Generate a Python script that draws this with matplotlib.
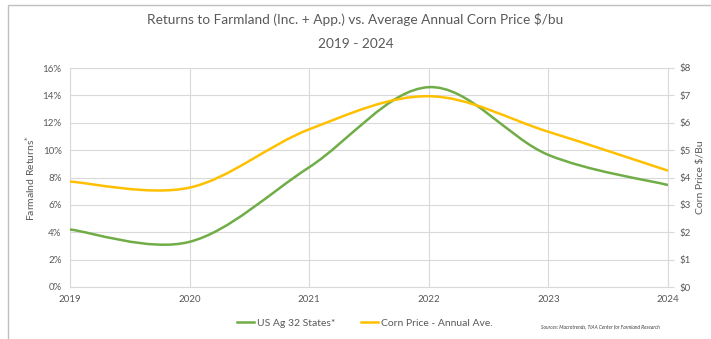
import numpy as np
import matplotlib.pyplot as plt
from matplotlib.path import Path
from matplotlib.patches import PathPatch, Rectangle
from matplotlib.lines import Line2D
from matplotlib.ticker import FuncFormatter

plt.rcParams['font.family'] = ['Lato', 'DejaVu Sans']

# annual values
years = [2019, 2020, 2021, 2022, 2023, 2024]
farm_returns = [4.2, 3.3, 8.75, 14.6, 9.65, 7.45]   # % per year, US Ag 32 states
corn_price = [3.85, 3.63, 5.76, 6.97, 5.67, 4.25]  # $/bu annual average

green = '#70AD47'
gold = '#FFC000'
txt = '#595959'
grid_c = '#D9D9D9'


def smooth_path(xs, ys):
    # Excel-style smoothed line: cubic Bezier segments through each point
    xs = np.asarray(xs, float)
    ys = np.asarray(ys, float)
    pts = np.column_stack([xs, ys])
    n = len(pts)
    verts = [pts[0]]
    codes = [Path.MOVETO]
    for i in range(n - 1):
        p0 = pts[max(i - 1, 0)]
        p1 = pts[i]
        p2 = pts[i + 1]
        p3 = pts[min(i + 2, n - 1)]
        c1 = p1 + (p2 - p0) / 6.0
        c2 = p2 - (p3 - p1) / 6.0
        verts += [c1, c2, p2]
        codes += [Path.CURVE4] * 3
    return Path(verts, codes)


fig = plt.figure(figsize=(7.11, 3.39), dpi=100)
fig.patches.append(Rectangle((8 / 711, -0.05), 1.1, 1 - 5 / 339 + 0.05,
                             transform=fig.transFigure, fill=False,
                             edgecolor='#BFBFBF', linewidth=1.0))

ax = fig.add_axes([70 / 711, 52 / 339, 598 / 711, 219 / 339])
ax2 = ax.twinx()

ax.set_xlim(2019, 2024)
ax.set_ylim(0, 16)
ax2.set_ylim(0, 8)
ax.set_xticks(years)
ax.set_yticks(np.arange(0, 17, 2))
ax2.set_yticks(np.arange(0, 9, 1))
ax.yaxis.set_major_formatter(FuncFormatter(lambda v, p: f'{v:.0f}%'))
ax2.yaxis.set_major_formatter(FuncFormatter(lambda v, p: f'${v:.0f}'))

ax.grid(True, color=grid_c, linewidth=0.8)
ax.set_axisbelow(True)
for a in (ax, ax2):
    for s in a.spines.values():
        s.set_visible(False)
ax.spines['bottom'].set_visible(True)
ax.spines['bottom'].set_color(grid_c)
ax.spines['left'].set_visible(True)
ax.spines['left'].set_color(grid_c)
ax2.spines['right'].set_visible(True)
ax2.spines['right'].set_color(grid_c)

ax.tick_params(axis='both', length=0, labelsize=7, colors=txt, pad=6)
ax.tick_params(axis='y', pad=6)
ax2.tick_params(axis='y', length=4, color=grid_c, labelsize=7, labelcolor=txt, pad=4)

ax.add_patch(PathPatch(smooth_path(years, farm_returns), facecolor='none',
                       edgecolor=green, linewidth=1.8, zorder=3))
ax2.add_patch(PathPatch(smooth_path(years, corn_price), facecolor='none',
                        edgecolor=gold, linewidth=1.8, zorder=3))

ax.set_ylabel('Farmalnd Returns$^{*}$', fontsize=7.5, color=txt, labelpad=4)
ax2.set_ylabel('Corn Price $/Bu', fontsize=7.5, color=txt, labelpad=4)

fig.text(0.5, 1 - 20 / 339, 'Returns to Farmland (Inc. + App.) vs. Average Annual Corn Price $/bu',
         ha='center', va='center', fontsize=9.8, color=txt)
fig.text(0.5, 1 - 44 / 339, '2019 - 2024', ha='center', va='center', fontsize=9.8, color=txt)

handles = [Line2D([], [], color=green, linewidth=1.8),
           Line2D([], [], color=gold, linewidth=1.8)]
fig.legend(handles, ['US Ag 32 States*', 'Corn Price - Annual Ave.'],
           loc='center', bbox_to_anchor=(365 / 711, 1 - 323 / 339), ncol=2,
           frameon=False, fontsize=7.5, labelcolor=txt, handlelength=1.6,
           handletextpad=0.3, columnspacing=2.5)
fig.text(600 / 711, 1 - 327 / 339, 'Sources: Macrotrends, TIAA Center for Farmland Research',
         ha='center', va='center', fontsize=3.5, style='italic', color='#404040')

fig.savefig('out.png', dpi=100, facecolor='white')
